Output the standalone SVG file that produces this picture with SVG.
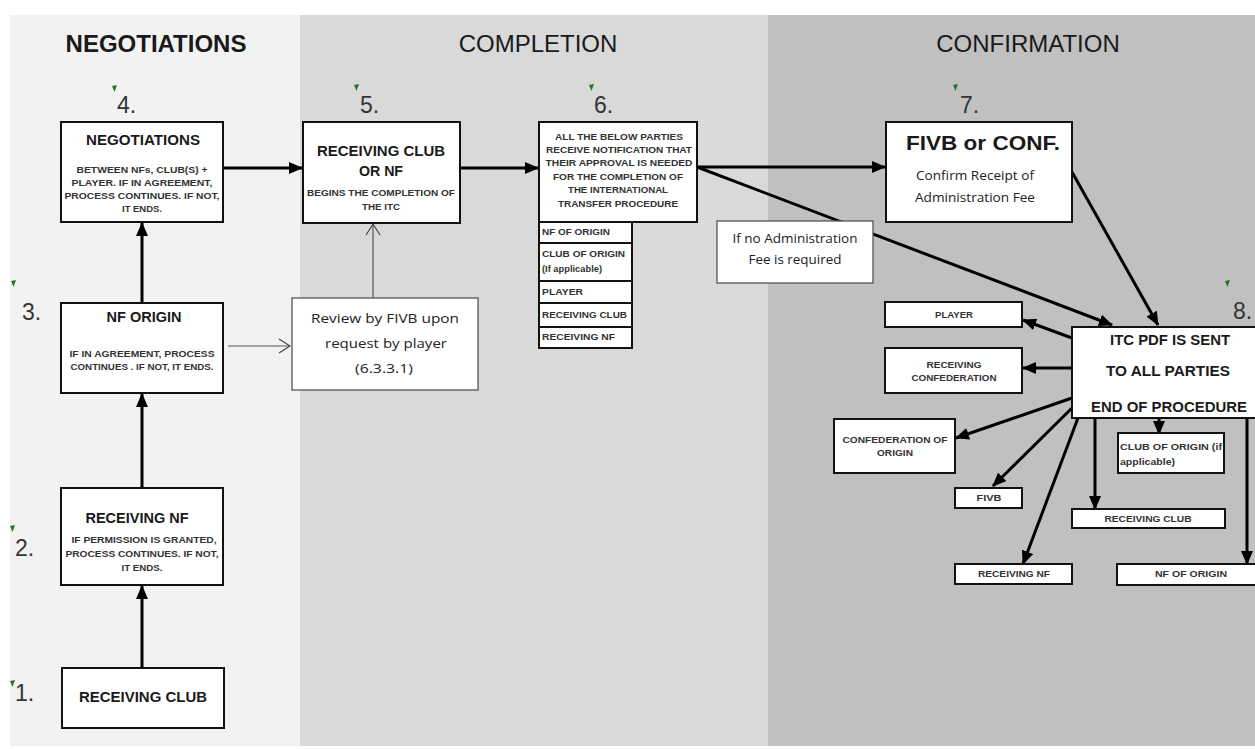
<svg xmlns="http://www.w3.org/2000/svg" width="1255" height="749" viewBox="0 0 1255 749">
<defs>
<style>
.box{fill:#fff;stroke:#111;stroke-width:2}
.tbox{fill:#fff;stroke:#555;stroke-width:1.3}
.t{font-family:"Liberation Sans",Arial,sans-serif;fill:#1a1a1a}
.title{font-size:24px;text-anchor:middle}
.num{font-size:23px;fill:#333}
.h{font-size:14.5px;font-weight:bold;text-anchor:middle}
.s{font-size:8.5px;font-weight:bold;text-anchor:middle;fill:#333}
.sl{font-size:8.5px;font-weight:bold;fill:#333}
.c{font-family:"Open Sans","DejaVu Sans",sans-serif;font-size:13px;text-anchor:middle;fill:#222}
.arr{stroke:#000;stroke-width:3;fill:none}
.thin{stroke:#555;stroke-width:1.2;fill:none}
.tick{fill:#1f7a1f}
</style>
<marker id="ah" markerWidth="14" markerHeight="12" refX="13" refY="6" orient="auto" markerUnits="userSpaceOnUse"><path d="M0,0 L14,6 L0,12 Z" fill="#000"/></marker>
<marker id="oh" markerWidth="14" markerHeight="16" refX="12" refY="8" orient="auto" markerUnits="userSpaceOnUse"><path d="M1,1 L12,8 L1,15" fill="none" stroke="#444" stroke-width="1.2"/></marker>
</defs>

<g id="background">
<rect width="1255" height="749" fill="#fff"/>
<rect x="10" y="15" width="290" height="731" fill="#f2f2f2"/>
<rect x="300" y="15" width="468" height="731" fill="#d9d9d9"/>
<rect x="768" y="15" width="487" height="731" fill="#c0c0c0"/>
<text class="t title" x="156" y="52" font-weight="bold">NEGOTIATIONS</text>
<text class="t title" x="538" y="52">COMPLETION</text>
<text class="t title" x="1028" y="52">CONFIRMATION</text>
</g>

<g id="step-numbers">
<path class="tick" d="M112,86 l5,-1 l-2.5,7 z"/><text class="t num" x="117" y="113">4.</text>
<path class="tick" d="M354,85 l5,-1 l-2.5,7 z"/><text class="t num" x="360" y="113">5.</text>
<path class="tick" d="M589,85 l5,-1 l-2.5,7 z"/><text class="t num" x="594" y="113">6.</text>
<path class="tick" d="M953,85 l5,-1 l-2.5,7 z"/><text class="t num" x="960" y="113">7.</text>
<path class="tick" d="M1225,281 l5,-1 l-2.5,7 z"/><text class="t num" x="1233" y="319">8.</text>
<path class="tick" d="M11,281 l5,-1 l-2.5,7 z"/><text class="t num" x="22" y="320">3.</text>
<path class="tick" d="M10,526 l5,-1 l-2.5,7 z"/><text class="t num" x="15" y="556">2.</text>
<path class="tick" d="M10,681 l5,-1 l-2.5,7 z"/><text class="t num" x="15" y="701">1.</text>
</g>

<g id="connectors">
<line class="arr" x1="142" y1="668" x2="142" y2="586" marker-end="url(#ah)"/>
<line class="arr" x1="142" y1="488" x2="142" y2="394" marker-end="url(#ah)"/>
<line class="arr" x1="142" y1="303" x2="142" y2="223" marker-end="url(#ah)"/>
<line class="arr" x1="224" y1="168" x2="302" y2="168" marker-end="url(#ah)"/>
<line class="arr" x1="460" y1="168" x2="538" y2="168" marker-end="url(#ah)"/>
<line class="arr" x1="697" y1="167" x2="885" y2="167" marker-end="url(#ah)"/>
<line class="arr" x1="697" y1="167" x2="1112" y2="325" marker-end="url(#ah)"/>
<line class="arr" x1="1072" y1="172" x2="1158" y2="325" marker-end="url(#ah)"/>
<line class="arr" x1="1072" y1="338" x2="1023" y2="320" marker-end="url(#ah)"/>
<line class="arr" x1="1072" y1="368" x2="1023" y2="368" marker-end="url(#ah)"/>
<line class="arr" x1="1072" y1="398" x2="956" y2="438" marker-end="url(#ah)"/>
<line class="arr" x1="1072" y1="408" x2="993" y2="486" marker-end="url(#ah)"/>
<line class="arr" x1="1078" y1="418" x2="1023" y2="564" marker-end="url(#ah)"/>
<line class="arr" x1="1095" y1="418" x2="1095" y2="509" marker-end="url(#ah)"/>
<line class="arr" x1="1159" y1="418" x2="1159" y2="434" marker-end="url(#ah)"/>
<line class="arr" x1="1247" y1="418" x2="1247" y2="564" marker-end="url(#ah)"/>
<line class="thin" x1="228" y1="346" x2="290" y2="346" marker-end="url(#oh)"/>
<line class="thin" x1="373" y1="298" x2="373" y2="224" marker-end="url(#oh)"/>
</g>

<g id="n1">
<rect class="box" x="62" y="668" width="162" height="60"/>
<text class="t h" x="143" y="702" textLength="128" lengthAdjust="spacingAndGlyphs">RECEIVING CLUB</text>
</g>

<g id="n2">
<rect class="box" x="61" y="488" width="162" height="97"/>
<text class="t h" x="137" y="523">RECEIVING NF</text>
<text class="t s" x="144" y="543" textLength="145" lengthAdjust="spacingAndGlyphs">IF PERMISSION IS GRANTED,</text>
<text class="t s" x="142" y="557" textLength="153" lengthAdjust="spacingAndGlyphs">PROCESS CONTINUES. IF NOT,</text>
<text class="t s" x="142" y="571" textLength="41" lengthAdjust="spacingAndGlyphs">IT ENDS.</text>
</g>

<g id="n3">
<rect class="box" x="61" y="303" width="162" height="90"/>
<text class="t h" x="144" y="322">NF ORIGIN</text>
<text class="t s" x="142" y="357" textLength="145" lengthAdjust="spacingAndGlyphs">IF IN AGREEMENT, PROCESS</text>
<text class="t s" x="142" y="370" textLength="143" lengthAdjust="spacingAndGlyphs">CONTINUES . IF NOT, IT ENDS.</text>
</g>

<g id="n4">
<rect class="box" x="61" y="122" width="162" height="100"/>
<text class="t h" x="143" y="145" textLength="114" lengthAdjust="spacingAndGlyphs">NEGOTIATIONS</text>
<text class="t s" x="142" y="173" textLength="131" lengthAdjust="spacingAndGlyphs">BETWEEN NFs, CLUB(S) +</text>
<text class="t s" x="142" y="186" textLength="141" lengthAdjust="spacingAndGlyphs">PLAYER. IF IN AGREEMENT,</text>
<text class="t s" x="142" y="199" textLength="155" lengthAdjust="spacingAndGlyphs">PROCESS CONTINUES. IF NOT,</text>
<text class="t s" x="142" y="212" textLength="40" lengthAdjust="spacingAndGlyphs">IT ENDS.</text>
</g>

<g id="review">
<rect class="tbox" x="292" y="298" width="186" height="92"/>
<text class="c" x="385" y="323" textLength="148" lengthAdjust="spacingAndGlyphs">Review by FIVB upon</text>
<text class="c" x="386" y="348" textLength="122" lengthAdjust="spacingAndGlyphs">request by player</text>
<text class="c" x="384" y="373" textLength="58" lengthAdjust="spacingAndGlyphs">(6.3.3.1)</text>
</g>

<g id="n5">
<rect class="box" x="303" y="122" width="157" height="101"/>
<text class="t h" x="381" y="156" textLength="128" lengthAdjust="spacingAndGlyphs">RECEIVING CLUB</text>
<text class="t h" x="381" y="176" textLength="44" lengthAdjust="spacingAndGlyphs">OR NF</text>
<text class="t s" x="381" y="196" textLength="148" lengthAdjust="spacingAndGlyphs">BEGINS THE COMPLETION OF</text>
<text class="t s" x="381" y="210" textLength="38" lengthAdjust="spacingAndGlyphs">THE ITC</text>
</g>

<g id="n6">
<rect class="box" x="539" y="122" width="158" height="100"/>
<text class="t s" x="619" y="140" textLength="128" lengthAdjust="spacingAndGlyphs">ALL THE BELOW PARTIES</text>
<text class="t s" x="619" y="153" textLength="146" lengthAdjust="spacingAndGlyphs">RECEIVE NOTIFICATION THAT</text>
<text class="t s" x="619" y="166" textLength="147" lengthAdjust="spacingAndGlyphs">THEIR APPROVAL IS NEEDED</text>
<text class="t s" x="618" y="180" textLength="130" lengthAdjust="spacingAndGlyphs">FOR THE COMPLETION OF</text>
<text class="t s" x="618" y="193" textLength="100" lengthAdjust="spacingAndGlyphs">THE INTERNATIONAL</text>
<text class="t s" x="618" y="207" textLength="120" lengthAdjust="spacingAndGlyphs">TRANSFER PROCEDURE</text>
</g>

<g id="n6-list">
<rect class="box" x="539" y="222" width="93" height="21"/>
<text class="t sl" x="542" y="235" textLength="68" lengthAdjust="spacingAndGlyphs">NF OF ORIGIN</text>
<rect class="box" x="539" y="243" width="93" height="38"/>
<text class="t sl" x="542" y="257" textLength="83" lengthAdjust="spacingAndGlyphs">CLUB OF ORIGIN</text>
<text class="t sl" x="542" y="272" textLength="60" lengthAdjust="spacingAndGlyphs">(If applicable)</text>
<rect class="box" x="539" y="281" width="93" height="22"/>
<text class="t sl" x="542" y="295" textLength="41" lengthAdjust="spacingAndGlyphs">PLAYER</text>
<rect class="box" x="539" y="303" width="93" height="24"/>
<text class="t sl" x="542" y="318" textLength="85" lengthAdjust="spacingAndGlyphs">RECEIVING CLUB</text>
<rect class="box" x="539" y="327" width="93" height="21"/>
<text class="t sl" x="542" y="340" textLength="73" lengthAdjust="spacingAndGlyphs">RECEIVING NF</text>
</g>

<g id="noadmin">
<rect class="tbox" x="717" y="221" width="156" height="62" stroke="#333"/>
<text class="c" x="795" y="243" textLength="125" lengthAdjust="spacingAndGlyphs">If no Administration</text>
<text class="c" x="795" y="264" textLength="93" lengthAdjust="spacingAndGlyphs">Fee is required</text>
</g>

<g id="n7">
<rect class="box" x="886" y="122" width="186" height="100"/>
<text class="t" x="983" y="150" font-size="21" font-weight="bold" text-anchor="middle" textLength="154" lengthAdjust="spacingAndGlyphs">FIVB or CONF.</text>
<text class="c" x="975" y="180" textLength="118" lengthAdjust="spacingAndGlyphs">Confirm Receipt of</text>
<text class="c" x="975" y="202" textLength="120" lengthAdjust="spacingAndGlyphs">Administration Fee</text>
</g>

<g id="n8">
<rect class="box" x="1072" y="327" width="200" height="91"/>
<text class="t h" x="1170" y="345" textLength="120" lengthAdjust="spacingAndGlyphs">ITC PDF IS SENT</text>
<text class="t h" x="1168" y="376" textLength="124" lengthAdjust="spacingAndGlyphs">TO ALL PARTIES</text>
<text class="t h" x="1169" y="412" textLength="156" lengthAdjust="spacingAndGlyphs">END OF PROCEDURE</text>
</g>

<g id="r-player">
<rect class="box" x="885" y="302" width="137" height="25"/>
<text class="t s" x="954" y="318" textLength="38" lengthAdjust="spacingAndGlyphs">PLAYER</text>
</g>
<g id="r-receiving-confederation">
<rect class="box" x="885" y="348" width="137" height="45"/>
<text class="t s" x="954" y="368" textLength="55" lengthAdjust="spacingAndGlyphs">RECEIVING</text>
<text class="t s" x="954" y="381" textLength="85" lengthAdjust="spacingAndGlyphs">CONFEDERATION</text>
</g>
<g id="r-confederation-origin">
<rect class="box" x="834" y="419" width="121" height="54"/>
<text class="t s" x="895" y="443" textLength="105" lengthAdjust="spacingAndGlyphs">CONFEDERATION OF</text>
<text class="t s" x="895" y="456" textLength="36" lengthAdjust="spacingAndGlyphs">ORIGIN</text>
</g>
<g id="r-fivb">
<rect class="box" x="955" y="488" width="67" height="20"/>
<text class="t s" x="989" y="501" textLength="25" lengthAdjust="spacingAndGlyphs">FIVB</text>
</g>
<g id="r-receiving-nf">
<rect class="box" x="955" y="564" width="117" height="20"/>
<text class="t s" x="1014" y="577" textLength="72" lengthAdjust="spacingAndGlyphs">RECEIVING NF</text>
</g>
<g id="r-receiving-club">
<rect class="box" x="1072" y="509" width="153" height="19"/>
<text class="t s" x="1148" y="522" textLength="87" lengthAdjust="spacingAndGlyphs">RECEIVING CLUB</text>
</g>
<g id="r-club-origin">
<rect class="box" x="1118" y="433" width="106" height="40"/>
<text class="t sl" x="1120" y="450" textLength="102" lengthAdjust="spacingAndGlyphs">CLUB OF ORIGIN (if</text>
<text class="t sl" x="1120" y="465" textLength="55" lengthAdjust="spacingAndGlyphs">applicable)</text>
</g>
<g id="r-nf-origin">
<rect class="box" x="1117" y="564" width="150" height="21"/>
<text class="t s" x="1191" y="577" textLength="72" lengthAdjust="spacingAndGlyphs">NF OF ORIGIN</text>
</g>
</svg>
